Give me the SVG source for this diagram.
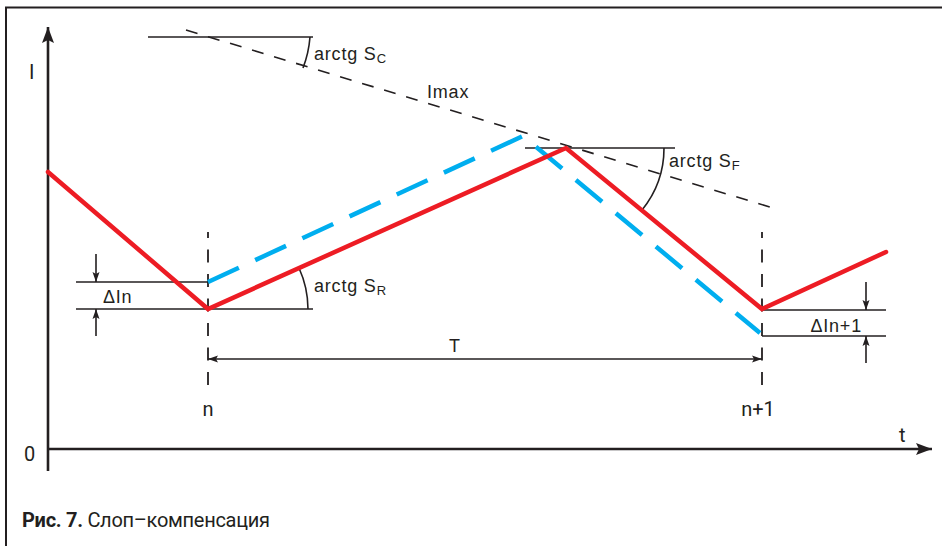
<svg xmlns="http://www.w3.org/2000/svg" width="942" height="546" viewBox="0 0 942 546">
<defs>
<style>
.frame{fill:none;stroke:#231f20;stroke-width:2}
.ax{fill:none;stroke:#231f20;stroke-width:2.6}
.thin{fill:none;stroke:#231f20;stroke-width:1.6}
.dash{fill:none;stroke:#231f20;stroke-width:1.6;stroke-dasharray:12 11}
.vdash{fill:none;stroke:#231f20;stroke-width:1.8;stroke-dasharray:13 11.5}
.red{fill:none;stroke:#ed1c24;stroke-width:4.5;stroke-linejoin:miter;stroke-linecap:round}
.blue{fill:none;stroke:#00aeef;stroke-width:4.5;stroke-dasharray:34 18}
text{font-family:"Liberation Sans",Arial,sans-serif;font-size:18px;letter-spacing:0.8px;fill:#231f20}
.cond{font-family:Roboto,"Liberation Sans",sans-serif;font-size:20px;letter-spacing:0}
.cap{font-family:Roboto,"Liberation Sans",sans-serif;font-size:20px;letter-spacing:0}
</style>
<marker id="ah" viewBox="0 0 10 10" refX="10" refY="5" markerWidth="10" markerHeight="10" markerUnits="userSpaceOnUse" orient="auto-start-reverse">
<path d="M0,1.5 L10,5 L0,8.5 L2,5 z" fill="#231f20"/>
</marker>
<marker id="axh" viewBox="0 0 16 12" refX="16" refY="6" markerWidth="16" markerHeight="12" markerUnits="userSpaceOnUse" orient="auto">
<path d="M0,0 L16,6 L0,12 L3,6 z" fill="#231f20"/>
</marker>
</defs>
<g id="frame"><polyline class="frame" points="942,7.5 6,7.5 6,546"/></g>
<g id="axes">
<line class="ax" x1="48" y1="471" x2="48" y2="27" marker-end="url(#axh)"/>
<line class="ax" x1="48" y1="449" x2="932" y2="449" marker-end="url(#axh)"/>
<text class="cond" x="29" y="79">I</text>
<text class="cond" x="24" y="461">0</text>
<text class="cond" x="899" y="442">t</text>
</g>
<g id="connectors">
<line class="thin" x1="148" y1="37" x2="313" y2="37"/>
<line class="dash" x1="186" y1="30" x2="773" y2="208"/>
<path class="thin" d="M310,37 A110,110 0 0 1 303,68"/>
<line class="thin" x1="525" y1="148" x2="675" y2="148"/>
<path class="thin" d="M664,148 A98,98 0 0 1 642,210"/>
<line class="thin" x1="76" y1="282" x2="208" y2="282"/>
<line class="thin" x1="76" y1="309" x2="313" y2="309"/>
<path class="thin" d="M308,309 A100,100 0 0 0 299,268"/>
<line class="thin" x1="762" y1="310" x2="886" y2="310"/>
<line class="thin" x1="762" y1="336" x2="886" y2="336"/>
<line class="vdash" x1="208" y1="385" x2="208" y2="232"/>
<line class="vdash" x1="762" y1="385" x2="762" y2="232"/>
<line class="thin" x1="96" y1="254" x2="96" y2="282" marker-end="url(#ah)"/>
<line class="thin" x1="96" y1="336" x2="96" y2="309" marker-end="url(#ah)"/>
<line class="thin" x1="866" y1="282" x2="866" y2="310" marker-end="url(#ah)"/>
<line class="thin" x1="866" y1="363" x2="866" y2="336" marker-end="url(#ah)"/>
<line class="thin" x1="208" y1="359" x2="762" y2="359" marker-start="url(#ah)" marker-end="url(#ah)"/>
<polyline class="blue" points="208,282 523,136 760,333"/>
<polyline class="red" points="48,172 208,309 566,148 762,309 886,252"/>
</g>
<g id="labels">
<text x="314" y="60">arctg S<tspan font-size="13" dy="3">C</tspan></text>
<text x="427" y="98">Imax</text>
<text x="669" y="167">arctg S<tspan font-size="13" dy="3">F</tspan></text>
<text x="314" y="292">arctg S<tspan font-size="13" dy="3">R</tspan></text>
<text x="103" y="303">ΔIn</text>
<text x="862" y="332" text-anchor="end">ΔIn+1</text>
<text x="455" y="352" text-anchor="middle">T</text>
<text class="cond" x="208" y="416" text-anchor="middle">n</text>
<text class="cond" x="758" y="416" text-anchor="middle">n+1</text>
</g>
<g id="caption">
<text class="cap" x="22" y="527" textLength="248"><tspan font-weight="bold">Рис. 7.</tspan> Слоп–компенсация</text>
</g>
</svg>
